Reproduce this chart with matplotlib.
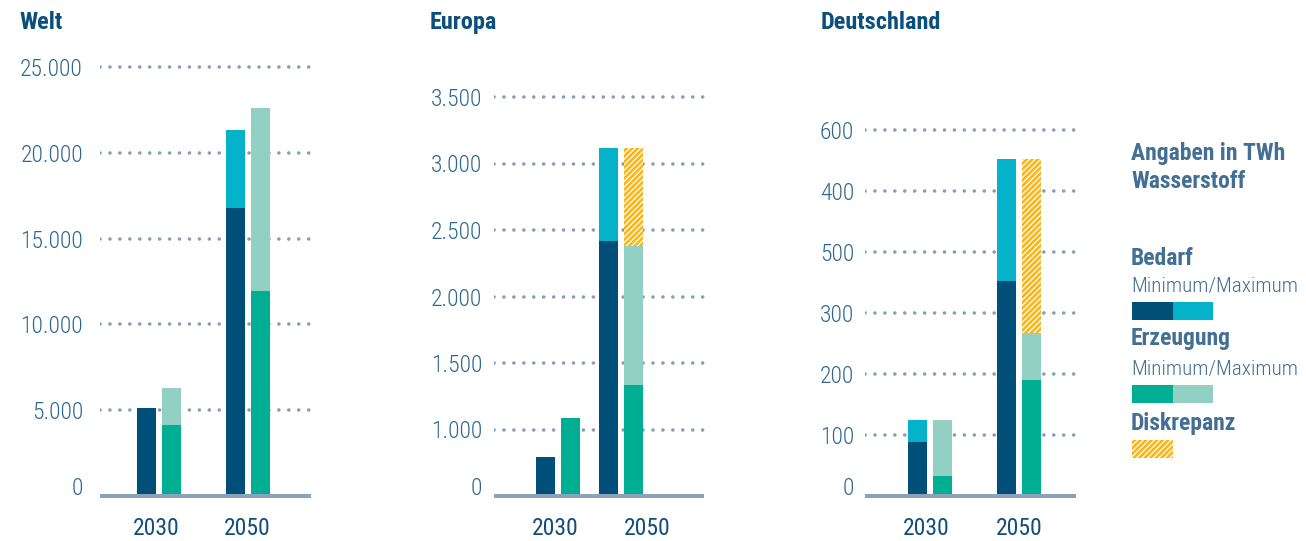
import matplotlib
matplotlib.use("Agg")
import matplotlib.pyplot as plt
from matplotlib import font_manager as fm
from matplotlib.patches import Rectangle

# ---------------- data ----------------
years = ["2030", "2050"]
panels = ["Welt", "Europa", "Deutschland"]

welt_bedarf_min = [5100, 16790]
welt_bedarf_max = [5100, 21330]
welt_erz_min = [4160, 11970]
welt_erz_max = [6270, 22610]

europa_bedarf_min = [790, 2420]
europa_bedarf_max = [790, 3120]
europa_erz_min = [1085, 1335]
europa_erz_max = [1085, 2380]

de_bedarf_min = [88, 352]
de_bedarf_max = [125, 552]
de_erz_min = [33, 190]
de_erz_max = [125, 267]

welt_ticks = [5000, 10000, 15000, 20000, 25000]
welt_tick_labels = ["5.000", "10.000", "15.000", "20.000", "25.000"]
europa_ticks = [1000, 1500, 2000, 2500, 3000, 3500]
europa_tick_labels = ["1.000", "1.500", "2.000", "2.500", "3.000", "3.500"]
de_ticks = [100, 200, 300, 400, 500, 600]
de_tick_labels = ["100", "200", "300", "500", "400", "600"]
zero_label = "0"

legend_title = ["Angaben in TWh", "Wasserstoff"]
legend_bedarf = "Bedarf"
legend_erz = "Erzeugung"
legend_sub = "Minimum/Maximum"
legend_disk = "Diskrepanz"

# ---------------- style ----------------
names = {f.name for f in fm.fontManager.ttflist}
FONT = "Roboto Condensed" if "Roboto Condensed" in names else "Liberation Sans"
plt.rcParams["font.family"] = [FONT, "DejaVu Sans"]
plt.rcParams["hatch.linewidth"] = 0.9

C_DARK = "#004f78"
C_CYAN = "#04b3c9"
C_GREEN = "#00af93"
C_LIGHT = "#92d0c4"
C_YELLOW = "#fbb616"
C_GRID = "#889dba"
C_AXIS = "#8ba1bc"
C_TITLE = "#0b4f7c"
C_TICK = "#2d6791"
C_YEAR = "#124e79"
C_LEG = "#436f94"

W, H = 1306, 541
DPI = 100
PX = 72.0 / DPI  # points per pixel

data = {
    "Welt": (welt_bedarf_min, welt_bedarf_max, welt_erz_min, welt_erz_max,
             welt_ticks, welt_tick_labels),
    "Europa": (europa_bedarf_min, europa_bedarf_max, europa_erz_min, europa_erz_max,
               europa_ticks, europa_tick_labels),
    "Deutschland": (de_bedarf_min, de_bedarf_max, de_erz_min, de_erz_max,
                    de_ticks, de_tick_labels),
}

layout = {
    "Welt": dict(left=100, right=313, c=(159.0, 247.5), lab=(156, 247),
                 top_px=67, base=0, pad=17, title_x=19),
    "Europa": dict(left=494, right=706, c=(558.25, 621.0), lab=(555, 647),
                   top_px=97, base=500, pad=12, title_x=430),
    "Deutschland": dict(left=865, right=1078, c=(930.0, 1018.5), lab=(926, 1019),
                        top_px=130, base=0, pad=11, title_x=821),
}
BASE_PX = 496
AX_TOP_PX = 55
BAR_W_PX = 19
OFF_PX = 12.5
TICK_SIZE = 17
YEAR_SIZE = 17

fig = plt.figure(figsize=(W / DPI, H / DPI), dpi=DPI)

for name in panels:
    bmin, bmax, emin, emax, ticks, tlabels = data[name]
    L = layout[name]
    ax = fig.add_axes([L["left"] / W, 1 - BASE_PX / H,
                       (L["right"] - L["left"]) / W, (BASE_PX - AX_TOP_PX) / H])
    upp = (ticks[-1] - L["base"]) / (BASE_PX - L["top_px"])
    ax.set_ylim(L["base"], L["base"] + (BASE_PX - AX_TOP_PX) * upp)
    c0, c1 = L["c"]
    unit = c1 - c0
    ax.set_xlim((L["left"] - c0) / unit, (L["right"] - c0) / unit)
    bw = BAR_W_PX / unit
    off = OFF_PX / unit
    x = [0, 1]
    xb = [xi - off for xi in x]
    xe = [xi + off for xi in x]

    # Bedarf
    ax.bar(xb, bmin, width=bw, color=C_DARK, zorder=2, linewidth=0)
    ax.bar(xb, [mx - mn for mn, mx in zip(bmin, bmax)], bottom=bmin, width=bw,
           color=C_CYAN, zorder=2, linewidth=0)
    # Erzeugung
    ax.bar(xe, emin, width=bw, color=C_GREEN, zorder=2, linewidth=0)
    ax.bar(xe, [mx - mn for mn, mx in zip(emin, emax)], bottom=emin, width=bw,
           color=C_LIGHT, zorder=2, linewidth=0)
    # Diskrepanz
    disk = [max(b - e, 0) for b, e in zip(bmax, emax)]
    ax.bar(xe, disk, bottom=emax, width=bw, color=C_YELLOW, edgecolor="white",
           hatch="//////", linewidth=0, zorder=2)

    # grid lines
    for t in ticks:
        ax.axhline(t, color=C_GRID, lw=3.6 * PX, ls=(0, (0.01, 2.75)),
                   dash_capstyle="round", zorder=0)
    # baseline
    ax.axhline(L["base"], xmax=(L["right"] - 2 - L["left"]) / (L["right"] - L["left"]),
               color=C_AXIS, lw=4 * PX, zorder=3, clip_on=False,
               solid_capstyle="butt")

    ax.set_yticks(ticks, tlabels)
    ax.tick_params(axis="y", length=0, pad=L["pad"] * PX, labelsize=TICK_SIZE,
                   labelcolor=C_TICK)
    for lab in ax.get_yticklabels():
        lab.set_fontweight(300)
    ax.annotate(zero_label, xy=(0, L["base"]), xycoords=("axes fraction", "data"),
                xytext=(-L["pad"], 1), textcoords="offset pixels",
                ha="right", va="baseline", fontsize=TICK_SIZE, color=C_TICK,
                fontweight=300, annotation_clip=False)

    lab0, lab1 = L["lab"]
    ax.set_xticks([(lab0 - c0) / unit, (lab1 - c0) / unit], years)
    ax.tick_params(axis="x", length=0, pad=21 * PX, labelsize=YEAR_SIZE,
                   labelcolor=C_YEAR)
    for s in ax.spines.values():
        s.set_visible(False)
    ax.patch.set_alpha(0)

    fig.text(L["title_x"] / W, 1 - 29 / H, name, ha="left", va="baseline",
             fontsize=17.5, fontweight="bold", color=C_TITLE)

# ---------------- legend ----------------
LX = 1131


def ftext(y_px, s, bold=False, size=16):
    fig.text(LX / W, 1 - y_px / H, s, ha="left", va="baseline", fontsize=size,
             fontweight="bold" if bold else 300, color=C_LEG)


def swatch(x_px, y_px, w_px, h_px, color, hatch=None):
    r = Rectangle((x_px / W, 1 - (y_px + h_px) / H), w_px / W, h_px / H,
                  transform=fig.transFigure, facecolor=color,
                  edgecolor="white" if hatch else "none", hatch=hatch, linewidth=0)
    fig.add_artist(r)


ftext(160, legend_title[0], bold=True, size=17)
ftext(188, legend_title[1], bold=True, size=17)
ftext(265, legend_bedarf, bold=True, size=17)
ftext(292, legend_sub, size=15.3)
swatch(1132, 302, 41, 18, C_DARK)
swatch(1173, 302, 40, 18, C_CYAN)
ftext(345, legend_erz, bold=True, size=17)
ftext(375, legend_sub, size=15.3)
swatch(1132, 385, 41, 18, C_GREEN)
swatch(1173, 385, 40, 18, C_LIGHT)
ftext(430, legend_disk, bold=True, size=17)
swatch(1132, 440, 41, 18, C_YELLOW, hatch="//////")

fig.savefig("out.png", dpi=DPI)
